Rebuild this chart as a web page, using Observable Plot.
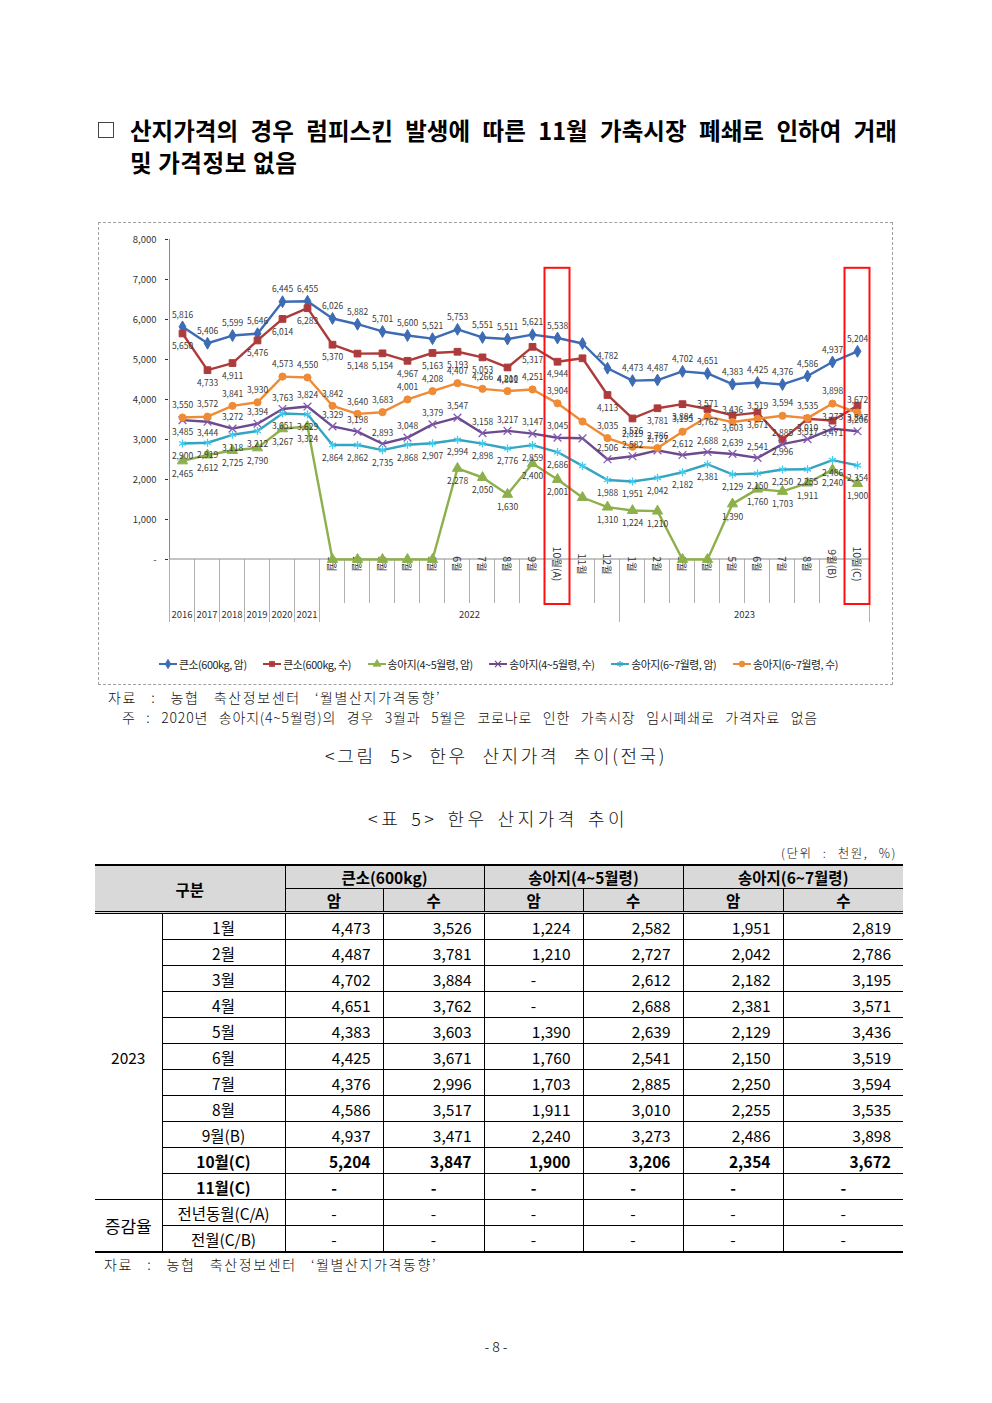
<!DOCTYPE html>
<html><head><meta charset="utf-8">
<script src="https://cdn.jsdelivr.net/npm/d3@7"></script>
<script src="https://cdn.jsdelivr.net/npm/@observablehq/plot@0.6"></script>
<style>
body{margin:0;background:#fff;}
#page{position:relative;width:992px;height:1403px;overflow:hidden;font-family:'Noto Sans CJK KR','Noto Sans',sans-serif;color:#000;background:#fff;}
.abs{position:absolute;white-space:nowrap;}
.just{text-align:justify;text-align-last:justify;}
#title1,#title2{font-size:23.5px;font-weight:700;line-height:32px;letter-spacing:0;}
#title2{letter-spacing:0.6px;}
#chk{position:absolute;left:98px;top:122px;width:14px;height:14px;border:1px solid #444;}
#box{position:absolute;left:98px;top:222px;width:793px;height:461px;border:1.5px dashed #a0a0a0;}
#chart{position:absolute;left:100px;top:225px;}
#legend{position:absolute;left:158px;top:656px;width:680px;display:flex;justify-content:space-between;font-size:10.8px;color:#222;letter-spacing:-0.4px;}
#legend span{display:flex;align-items:center;gap:1px;}
.note{font-weight:300;font-size:14px;color:#111;}
.cap{font-weight:300;font-size:18px;color:#111;}
#tbl{position:absolute;left:95px;top:864px;width:808px;border-collapse:collapse;table-layout:fixed;font-size:15.5px;}
#tbl th,#tbl td{padding:0;border:1px solid #000;line-height:22px;height:25px;}
#tbl th{background:#d9d9d9;font-weight:700;text-align:center;}
#tbl thead tr.h1 th{border-top:2px solid #000;height:22px;}
#tbl thead tr.h2 th{height:21px;}
#tbl thead tr.h2 th,#tbl th.gubun{border-bottom:3px double #000;}
#tbl .noL{border-left:none !important;}
#tbl .noR{border-right:none !important;}
#tbl td.num{text-align:right;padding-right:12px;}
#tbl td.dash{text-align:center;}
#tbl td.mon{text-align:center;}
#tbl td.yr{text-align:center;}
#tbl tr.bold td{font-weight:700;}
#tbl tr.lastrow td,#tbl td.lastcell{border-bottom:2px solid #000;}
</style></head>
<body><div id="page">
<div id="chk"></div>
<div id="title1" class="abs just" style="left:130px;top:114px;width:767px;">산지가격의 경우 럼피스킨 발생에 따른 11월 가축시장 폐쇄로 인하여 거래</div>
<div id="title2" class="abs" style="left:130px;top:146px;">및 가격정보 없음</div>
<div id="box"></div>
<div id="chart"></div>
<div id="legend"></div>
<div class="abs note just" style="left:108px;top:687px;width:333px;letter-spacing:1.6px;">자료 : 농협 축산정보센터 ‘월별산지가격동향’</div>
<div class="abs note just" style="left:122px;top:707px;width:696px;letter-spacing:0.8px;">주 : 2020년 송아지(4~5월령)의 경우 3월과 5월은 코로나로 인한 가축시장 임시폐쇄로 가격자료 없음</div>
<div class="abs cap just" style="left:325px;top:742px;width:342px;letter-spacing:2.6px;">&lt;그림 5&gt; 한우 산지가격 추이(전국)</div>
<div class="abs cap just" style="left:368px;top:805px;width:260px;letter-spacing:3.5px;">&lt;표 5&gt; 한우 산지가격 추이</div>
<div class="abs note just" style="left:781px;top:843px;width:116px;font-size:12.5px;letter-spacing:1.5px;">(단위 : 천원, %)</div>
<table id="tbl">
<colgroup><col style="width:67px"><col style="width:123px"><col style="width:98px"><col style="width:101px"><col style="width:99px"><col style="width:100px"><col style="width:100px"><col style="width:120px"></colgroup>
<thead>
<tr class="h1"><th colspan="2" rowspan="2" class="gubun noL">구분</th><th colspan="2">큰소(600kg)</th><th colspan="2">송아지(4~5월령)</th><th colspan="2" class="noR">송아지(6~7월령)</th></tr>
<tr class="h2"><th>암</th><th>수</th><th>암</th><th>수</th><th>암</th><th class="noR">수</th></tr>
</thead>
<tbody id="tbody"></tbody>
</table>
<div class="abs note just" style="left:104px;top:1254px;width:333px;letter-spacing:1.6px;">자료 : 농협 축산정보센터 ‘월별산지가격동향’</div>
<div class="abs" style="left:0;width:992px;top:1336px;text-align:center;font-size:14px;font-weight:300;">- 8 -</div>
</div>
<script>
// ---- categories (x axis) ----
const categories = ["2016","2017","2018","2019","2020","2021",
  "2022-01","2022-02","2022-03","2022-04","2022-05","2022-06","2022-07","2022-08","2022-09","2022-10","2022-11","2022-12",
  "2023-01","2023-02","2023-03","2023-04","2023-05","2023-06","2023-07","2023-08","2023-09","2023-10"];
const periodLabels = ["","","","","","",
  "1월","2월","3월","4월","5월","6월","7월","8월","9월","10월(A)","11월","12월",
  "1월","2월","3월","4월","5월","6월","7월","8월","9월(B)","10월(C)"];
const yearGroups = [
  {label:"2016",from:"2016",to:"2016"},{label:"2017",from:"2017",to:"2017"},
  {label:"2018",from:"2018",to:"2018"},{label:"2019",from:"2019",to:"2019"},
  {label:"2020",from:"2020",to:"2020"},{label:"2021",from:"2021",to:"2021"},
  {label:"2022",from:"2022-01",to:"2022-12"},{label:"2023",from:"2023-01",to:"2023-10"}];
const highlighted = ["2022-10","2023-10"];
const highlightTop = 7280;
const unlabeled = ["2022-11"];
const yTicks = [0,1000,2000,3000,4000,5000,6000,7000,8000];

// ---- series values (천원) ----
const bigCowFemale = [5816,5406,5599,5646,6445,6455, 6026,5882,5701,5600,5521,5753,5551,5511,5621,5538,5400,4782, 4473,4487,4702,4651,4383,4425,4376,4586,4937,5204];
const bigCowMale   = [5650,4733,4911,5476,6014,6283, 5370,5148,5154,4967,5163,5193,5053,4801,5317,4944,5030,4113, 3526,3781,3884,3762,3603,3671,2996,3517,3471,3847];
const calf45Female = [2465,2612,2725,2790,3267,3324, 0,0,0,0,0,2278,2050,1630,2400,2001,1550,1310, 1224,1210,0,0,1390,1760,1703,1911,2240,1900];
const calf45Male   = [3485,3444,3272,3394,3763,3824, 3329,3198,2893,3048,3379,3547,3158,3217,3147,3045,3030,2506, 2582,2727,2612,2688,2639,2541,2885,3010,3273,3206];
const calf67Female = [2900,2919,3118,3212,3651,3629, 2864,2862,2735,2868,2907,2994,2898,2776,2859,2686,2340,1988, 1951,2042,2182,2381,2129,2150,2250,2255,2486,2354];
const calf67Male   = [3550,3572,3841,3930,4573,4550, 3842,3640,3683,4001,4208,4407,4266,4210,4251,3904,3450,3035, 2819,2786,3195,3571,3436,3519,3594,3535,3898,3672];
// label placement exceptions (flip side)
const calf45MaleFlip = ["2016","2017"];

// ---- table (2023) ----
const tableMonths = ["1월","2월","3월","4월","5월","6월","7월","8월","9월(B)","10월(C)"];
const tableExtraMonth = "11월(C)";
const tableYear = "2023";
const rateLabel = "증감율";
const rateRows = ["전년동월(C/A)","전월(C/B)"];

const seriesDefs = [
  {name:"큰소(600kg, 암)", values:bigCowFemale, color:"#3d6cb4", symbol:"diamond", dy:-12, r:3.6, hollow:false, flip:[]},
  {name:"큰소(600kg, 수)", values:bigCowMale, color:"#ae3b3b", symbol:"square", dy:13, r:3.8, hollow:false, flip:[]},
  {name:"송아지(4~5월령, 암)", values:calf45Female, color:"#8db04c", symbol:"triangle", dy:13, r:3.8, hollow:false, flip:[]},
  {name:"송아지(4~5월령, 수)", values:calf45Male, color:"#6b4a8d", symbol:"times", dy:-11, r:3.6, hollow:true, flip:calf45MaleFlip},
  {name:"송아지(6~7월령, 암)", values:calf67Female, color:"#35a4c1", symbol:"asterisk", dy:13, r:3.8, hollow:true, flip:[]},
  {name:"송아지(6~7월령, 수)", values:calf67Male, color:"#ef8b36", symbol:"circle", dy:-12, r:3.6, hollow:false, flip:[]}
];
const fmt = d3.format(",");

const marks = [];
// axis decorations (axis lines, separators, multi-level labels)
marks.push(function(index, scales) {
  const {x, y} = scales;
  const step = x(categories[1]) - x(categories[0]);
  const left = x(categories[0]) - step/2;
  const right = x(categories[categories.length-1]) + step/2;
  const y0 = y(0);
  const g = d3.create("svg:g");
  const grp = c => c.slice(0,4);
  for (let i = 0; i <= categories.length; i++) {
    const bx = i === 0 ? left : i === categories.length ? right : (x(categories[i-1]) + x(categories[i])) / 2;
    const edge = i === 0 || i === categories.length || grp(categories[i-1]) !== grp(categories[i]);
    g.append("line").attr("x1", bx).attr("x2", bx).attr("y1", y0).attr("y2", y0 + (edge ? 63 : 44))
      .attr("stroke", "#b0b0b0").attr("stroke-width", 1);
  }
  g.append("line").attr("x1", left).attr("x2", left).attr("y1", y(yTicks[yTicks.length-1])).attr("y2", y0).attr("stroke", "#8a8a8a");
  g.append("line").attr("x1", left).attr("x2", right).attr("y1", y0).attr("y2", y0).attr("stroke", "#8a8a8a");
  categories.forEach((c, i) => {
    if (!periodLabels[i]) return;
    g.append("text").attr("transform", `translate(${x(c)},${y0 + 5}) rotate(90)`)
      .attr("dominant-baseline", "central").attr("font-size", 10.5).attr("fill", "#333").text(periodLabels[i]);
  });
  yearGroups.forEach(gr => {
    g.append("text").attr("x", (x(gr.from) + x(gr.to)) / 2).attr("y", y0 + 59)
      .attr("text-anchor", "middle").attr("font-size", 9.5).attr("fill", "#333").text(gr.label);
  });
  return g.node();
});
marks.push(Plot.axisY({ticks: yTicks, tickFormat: d => d === 0 ? "-" : fmt(d), tickSize: 3, tickPadding: 9, fontSize: 9.5, color: "#333", label: null}));

seriesDefs.forEach(s => {
  const data = categories.map((c, i) => ({cat: c, v: s.values[i]}));
  marks.push(Plot.line(data, {x: "cat", y: "v", stroke: s.color, strokeWidth: 2.4}));
  marks.push(Plot.dot(data, {x: "cat", y: "v", symbol: s.symbol, r: s.r,
    fill: s.hollow ? "none" : s.color, stroke: s.hollow ? d3.color(s.color).brighter(0.6).formatHex() : s.color, strokeWidth: s.hollow ? 1.3 : 1}));
});
seriesDefs.forEach(s => {
  const data = categories.map((c, i) => ({cat: c, v: s.values[i]})).filter(d => d.v > 0 && !unlabeled.includes(d.cat));
  const normal = data.filter(d => !s.flip.includes(d.cat));
  const flipped = data.filter(d => s.flip.includes(d.cat));
  marks.push(Plot.text(normal, {x: "cat", y: "v", text: d => fmt(d.v), dy: s.dy, fontSize: 8.5, fill: "#3a3a3a"}));
  if (flipped.length) marks.push(Plot.text(flipped, {x: "cat", y: "v", text: d => fmt(d.v), dy: -s.dy + 1, fontSize: 8.5, fill: "#3a3a3a"}));
});
// highlight boxes
marks.push(function(index, scales) {
  const {x, y} = scales;
  const step = x(categories[1]) - x(categories[0]);
  const g = d3.create("svg:g");
  highlighted.forEach(c => {
    g.append("rect").attr("x", x(c) - step/2).attr("y", y(highlightTop)).attr("width", step)
      .attr("height", y(0) + 45 - y(highlightTop)).attr("fill", "none").attr("stroke", "#ff1010").attr("stroke-width", 2);
  });
  return g.node();
});

const chart = Plot.plot({
  width: 790, height: 420,
  marginLeft: 68, marginRight: 19, marginTop: 14, marginBottom: 86,
  x: {type: "point", domain: categories, padding: 0.5, axis: null},
  y: {domain: [0, 8000]},
  style: {fontFamily: "'Noto Sans CJK KR','Noto Sans',sans-serif", background: "transparent", overflow: "visible"},
  marks
});
document.getElementById("chart").appendChild(chart);

// legend
const legend = d3.select("#legend");
const symMap = {diamond: d3.symbolDiamond, square: d3.symbolSquare, triangle: d3.symbolTriangle, times: d3.symbolTimes, asterisk: d3.symbolAsterisk, circle: d3.symbolCircle};
seriesDefs.forEach(s => {
  const item = legend.append("span");
  const svg = item.append("svg").attr("width", 20).attr("height", 10);
  svg.append("line").attr("x1", 1).attr("x2", 19).attr("y1", 5).attr("y2", 5).attr("stroke", s.color).attr("stroke-width", 2);
  svg.append("path").attr("transform", "translate(10,5)").attr("d", d3.symbol(symMap[s.symbol], 26)())
    .attr("fill", s.hollow ? "none" : s.color).attr("stroke", s.color).attr("stroke-width", s.hollow ? 1.2 : 0.8);
  item.append("span").text(s.name);
});

// table body
const tb = d3.select("#tbody");
const tableSeries = seriesDefs.map(s => s.values.slice(-tableMonths.length));
const cellOf = (tr, v, isLast) => {
  const td = tr.append("td").attr("class", (v > 0 ? "num" : "dash") + (isLast ? " noR" : ""));
  td.text(v > 0 ? fmt(v) : "-");
};
tableMonths.forEach((m, i) => {
  const tr = tb.append("tr");
  if (m.includes("(C)")) tr.classed("bold", true);
  if (i === 0) tr.append("td").attr("rowspan", tableMonths.length + 1).attr("class", "yr noL").text(tableYear);
  tr.append("td").attr("class", "mon").text(m);
  tableSeries.forEach((vals, k) => cellOf(tr, vals[i], k === tableSeries.length - 1));
});
{
  const tr = tb.append("tr").classed("bold", true);
  tr.append("td").attr("class", "mon").text(tableExtraMonth);
  tableSeries.forEach((vals, k) => cellOf(tr, 0, k === tableSeries.length - 1));
}
rateRows.forEach((r, i) => {
  const tr = tb.append("tr");
  if (i === rateRows.length - 1) tr.classed("lastrow", true);
  if (i === 0) tr.append("td").attr("rowspan", rateRows.length).attr("class", "yr noL lastcell").style("font-size", "17px").text(rateLabel);
  tr.append("td").attr("class", "mon").text(r);
  tableSeries.forEach((vals, k) => cellOf(tr, 0, k === tableSeries.length - 1));
});
</script>
</body></html>
